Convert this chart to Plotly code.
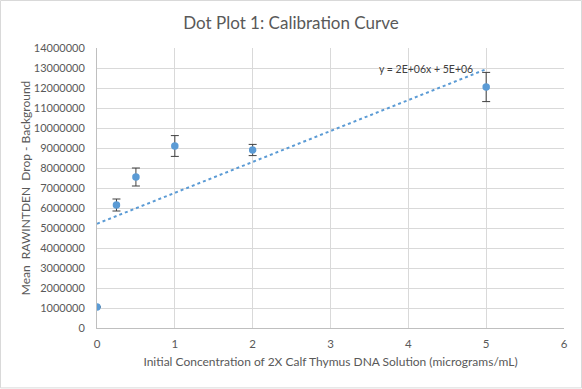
import numpy as np
import plotly.graph_objects as go

concentration = [0, 0.25, 0.5, 1, 2, 5]
mean_rawintden = [1050000, 6150000, 7550000, 9100000, 8900000, 12050000]
error_values = [0, 300000, 450000, 520000, 280000, 730000]
y_ticks = list(range(0, 14000001, 1000000))
x_ticks = [0, 1, 2, 3, 4, 5, 6]

slope, intercept = np.polyfit(concentration, mean_rawintden, 1)
trend_x = [min(concentration), max(concentration)]
trend_y = [slope * v + intercept for v in trend_x]

FONT = "Lato, 'Open Sans', sans-serif"
GRAY = "#595959"

fig = go.Figure()
fig.add_trace(go.Scatter(
    x=trend_x, y=trend_y, mode="lines",
    line=dict(color="#5b9bd5", width=2, dash="dot"),
    hoverinfo="skip", showlegend=False))
fig.add_trace(go.Scatter(
    x=concentration, y=mean_rawintden, mode="markers",
    marker=dict(color="#5b9bd5", size=7.5),
    error_y=dict(type="data", array=error_values, color="#404040",
                 thickness=1, width=4),
    showlegend=False))

fig.add_annotation(
    x=4.23, y=12950000, xref="x", yref="y", text="y = 2E+06x + 5E+06",
    showarrow=False, font=dict(family=FONT, size=10.5, color="#404040"))

fig.add_shape(type="rect", xref="paper", yref="paper",
              x0=-0.2066, x1=1.0375, y0=-0.214, y1=1.1696,
              line=dict(color="#d9d9d9", width=1), layer="below")

fig.update_layout(
    width=582, height=389,
    margin=dict(l=97, r=18, t=48, b=61),
    paper_bgcolor="white", plot_bgcolor="white",
    title=dict(text="Dot Plot 1: Calibration Curve", x=0.5, xanchor="center",
               y=0.94, yanchor="middle",
               font=dict(family=FONT, size=17, color=GRAY)),
    font=dict(family=FONT, size=12, color=GRAY),
    xaxis=dict(range=[0, 6], tickvals=x_ticks, showgrid=True,
               gridcolor="#d9d9d9", gridwidth=1, zeroline=False,
               showline=True, linecolor="#bfbfbf", linewidth=1,
               ticks="", ticklabelstandoff=5, tickfont=dict(size=11.5, color=GRAY),
               title=dict(text="Initial Concentration of 2X Calf Thymus DNA Solution (micrograms/mL)",
                          font=dict(size=12, color=GRAY), standoff=8)),
    yaxis=dict(range=[0, 14000000], tickvals=y_ticks,
               ticktext=[str(v) for v in y_ticks], showgrid=True,
               gridcolor="#d9d9d9", gridwidth=1, zeroline=False,
               showline=True, linecolor="#bfbfbf", linewidth=1,
               ticks="", ticklabelstandoff=9, tickfont=dict(size=11, color=GRAY),
               title=dict(text="Mean \u00a0RAWINTDEN \u00a0Drop - Background",
                          font=dict(size=12, color=GRAY), standoff=0)),
)

fig.write_html("out.html", config={"displayModeBar": False},
               post_script="document.body.style.margin='0';")
